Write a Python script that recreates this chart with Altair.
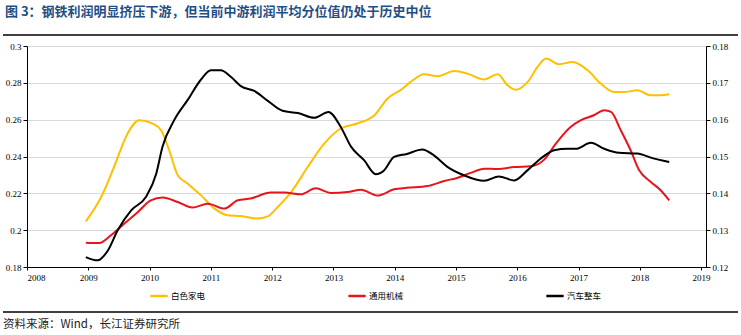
import altair as alt
import pandas as pd

series_names = ["白色家电", "通用机械", "汽车整车"]
series_colors = ["#FFC000", "#E8141B", "#000000"]

appliance_x = [2008.96, 2009.21, 2009.42, 2009.64, 2009.83, 2010.05, 2010.19, 2010.32, 2010.46, 2010.62,
               2010.84, 2011.06, 2011.27, 2011.49, 2011.76, 2011.93, 2012.09, 2012.31, 2012.58, 2012.85,
               2013.12, 2013.39, 2013.67, 2013.88, 2014.10, 2014.26, 2014.48, 2014.70, 2014.97, 2015.19,
               2015.46, 2015.68, 2015.84, 2015.98, 2016.17, 2016.33, 2016.47, 2016.68, 2016.90, 2017.15,
               2017.36, 2017.58, 2017.74, 2017.96, 2018.18, 2018.34, 2018.48]
appliance_y = [0.2048, 0.2180, 0.2343, 0.2524, 0.2597, 0.2579, 0.2542, 0.2434, 0.2298, 0.2253,
               0.2189, 0.2117, 0.2081, 0.2077, 0.2063, 0.2075, 0.2126, 0.2207, 0.2343, 0.2470,
               0.2552, 0.2579, 0.2624, 0.2714, 0.2762, 0.2805, 0.2846, 0.2836, 0.2864, 0.2850,
               0.2818, 0.2846, 0.2787, 0.2763, 0.2805, 0.2886, 0.2932, 0.2901, 0.2913, 0.2868,
               0.2796, 0.2750, 0.2750, 0.2760, 0.2732, 0.2732, 0.2738]

machinery_x = [2008.96, 2009.18, 2009.37, 2009.59, 2009.81, 2010.02, 2010.21, 2010.46, 2010.70, 2010.95,
               2011.22, 2011.44, 2011.65, 2011.98, 2012.20, 2012.47, 2012.71, 2012.96, 2013.23, 2013.45,
               2013.72, 2013.99, 2014.20, 2014.54, 2014.81, 2015.03, 2015.24, 2015.46, 2015.68, 2015.95,
               2016.22, 2016.44, 2016.63, 2016.87, 2017.04, 2017.25, 2017.42, 2017.53, 2017.69, 2017.85,
               2017.99, 2018.18, 2018.34, 2018.48]
machinery_y = [0.1932, 0.1930, 0.1972, 0.2036, 0.2099, 0.2162, 0.2177, 0.2153, 0.2123, 0.2144,
               0.2117, 0.2162, 0.2172, 0.2204, 0.2204, 0.2195, 0.2227, 0.2202, 0.2207, 0.2220,
               0.2188, 0.2222, 0.2230, 0.2240, 0.2267, 0.2285, 0.2311, 0.2334, 0.2332, 0.2343,
               0.2347, 0.2383, 0.2470, 0.2560, 0.2597, 0.2624, 0.2651, 0.2642, 0.2542, 0.2434,
               0.2325, 0.2262, 0.2217, 0.2162]

auto_x = [2008.96, 2009.15, 2009.32, 2009.48, 2009.70, 2009.94, 2010.11, 2010.21, 2010.40, 2010.62,
          2010.84, 2011.00, 2011.16, 2011.33, 2011.49, 2011.71, 2011.93, 2012.17, 2012.42, 2012.69,
          2012.92, 2013.12, 2013.29, 2013.50, 2013.69, 2013.83, 2013.99, 2014.20, 2014.45, 2014.64,
          2014.86, 2015.13, 2015.46, 2015.70, 2015.95, 2016.17, 2016.38, 2016.60, 2016.82, 2016.96,
          2017.20, 2017.42, 2017.66, 2017.96, 2018.18, 2018.48]
auto_y = [0.1227, 0.1218, 0.1245, 0.1300, 0.1354, 0.1390, 0.1454, 0.1526, 0.1598, 0.1653,
          0.1709, 0.1734, 0.1734, 0.1716, 0.1691, 0.1678, 0.1651, 0.1624, 0.1618, 0.1605,
          0.1621, 0.1580, 0.1526, 0.1490, 0.1452, 0.1463, 0.1499, 0.1507, 0.1519, 0.1503,
          0.1472, 0.1449, 0.1434, 0.1446, 0.1435, 0.1463, 0.1494, 0.1517, 0.1521, 0.1521,
          0.1537, 0.1521, 0.1510, 0.1508, 0.1497, 0.1485]

year_ticks = list(range(2008, 2020))
left_ticks = [0.18, 0.2, 0.22, 0.24, 0.26, 0.28, 0.3]
right_ticks = [0.12, 0.13, 0.14, 0.15, 0.16, 0.17, 0.18]

title_text = "图 3：钢铁利润明显挤压下游，但当前中游利润平均分位值仍处于历史中位"
source_text = "资料来源：Wind，长江证券研究所"

left_df = pd.concat([
    pd.DataFrame({"t": appliance_x, "v": appliance_y, "s": series_names[0], "o": 0}),
    pd.DataFrame({"t": machinery_x, "v": machinery_y, "s": series_names[1], "o": 1}),
])
right_df = pd.DataFrame({"t": auto_x, "v": auto_y, "s": series_names[2], "o": 2})

W, H = 679, 221
SERIF = "Liberation Serif"
CJK = "Noto Sans CJK SC"

x_enc = alt.X("t:Q", scale=alt.Scale(domain=[2008, 2019.08], nice=False, zero=False),
              axis=alt.Axis(values=year_ticks, format="d", title=None, grid=False,
                            domainColor="#000", tickColor="#000", tickSize=3,
                            labelFont=SERIF, labelFontSize=9, labelColor="#000",
                            labelPadding=3))

color_scale = alt.Scale(domain=series_names, range=series_colors)

left = alt.Chart(left_df).mark_line(strokeWidth=2, interpolate="monotone").encode(
    x=x_enc,
    y=alt.Y("v:Q", scale=alt.Scale(domain=[0.18, 0.3], nice=False, zero=False),
            axis=alt.Axis(values=left_ticks, format="~g", title=None, orient="left",
                          grid=True, gridColor="#d9d9d9", gridWidth=1,
                          domainColor="#000", tickColor="#000", tickSize=4,
                          labelFont=SERIF, labelFontSize=9, labelColor="#000", labelPadding=2)),
    color=alt.Color("s:N", scale=color_scale,
                    legend=alt.Legend(title=None, orient="none", legendX=122, legendY=240,
                                      direction="horizontal", symbolType="stroke",
                                      symbolSize=300, symbolStrokeWidth=2.5,
                                      labelFont=CJK, labelFontSize=8.5, labelColor="#000",
                                      labelOffset=2, columnPadding=137)),
    detail="s:N",
    order="o:Q",
)

right = alt.Chart(right_df).mark_line(strokeWidth=2, interpolate="monotone").encode(
    x=x_enc,
    y=alt.Y("v:Q", scale=alt.Scale(domain=[0.12, 0.18], nice=False, zero=False),
            axis=alt.Axis(values=right_ticks, format="~g", title=None, orient="right",
                          grid=False, domainColor="#000", tickColor="#000", tickSize=4,
                          labelFont=SERIF, labelFontSize=9, labelColor="#000", labelPadding=2)),
    color=alt.Color("s:N", scale=color_scale),
)

one = alt.Data(values=[{}])
title_mark = alt.Chart(one).mark_text(align="left", baseline="middle", font=CJK,
                                      fontSize=13, fontWeight="bold", color="#1f4f85").encode(
    x=alt.value(-22), y=alt.value(-34), text=alt.value(title_text))
top_rule = alt.Chart(one).mark_rule(color="#000", strokeWidth=1.5).encode(
    x=alt.value(-24), x2=alt.value(711), y=alt.value(-11))
bottom_rule = alt.Chart(one).mark_rule(color="#000", strokeWidth=1.5).encode(
    x=alt.value(-24), x2=alt.value(711), y=alt.value(266))
source_mark = alt.Chart(one).mark_text(align="left", baseline="middle", font=CJK,
                                       fontSize=11.5, color="#222").encode(
    x=alt.value(-24), y=alt.value(279), text=alt.value(source_text))

chart = alt.layer(left, right, title_mark, top_rule, bottom_rule, source_mark).resolve_scale(
    y="independent"
).properties(
    width=W, height=H,
    autosize=alt.AutoSizeParams(type="none"),
    padding={"left": 27, "top": 46, "right": 35, "bottom": 68},
    background="white",
).configure_view(stroke=None)

chart.save("out.html", embed_options={"renderer": "svg", "actions": False})
